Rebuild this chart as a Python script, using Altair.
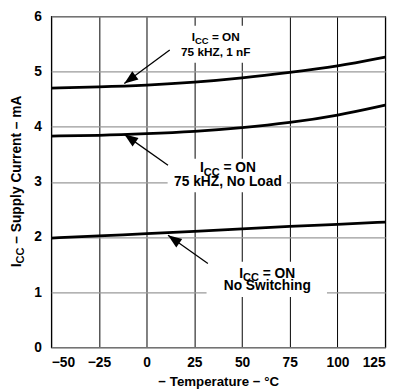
import math
import altair as alt
import pandas as pd

# ---- data ----
temps = [-50, -25, 0, 25, 50, 75, 100, 125]
icc_1nf = [4.70, 4.72, 4.75, 4.80, 4.88, 4.98, 5.09, 5.26]
icc_noload = [3.83, 3.84, 3.87, 3.91, 3.98, 4.07, 4.20, 4.39]
icc_noswitch = [1.98, 2.02, 2.06, 2.10, 2.15, 2.19, 2.23, 2.27]
series_names = ["75 kHZ, 1 nF", "75 kHZ, No Load", "No Switching"]

x_ticks = [-50, -25, 0, 25, 50, 75, 100, 125]
y_ticks = [0, 1, 2, 3, 4, 5, 6]

# annotations (data units)
label_line2 = ["75 kHZ, 1 nF", "75 kHZ, No Load", "No Switching"]
label_x = [36.2, 42.6, 63.2]
label_y1 = [5.55, 3.17, 1.265]
label_y2 = [5.28, 2.92, 1.047]
label_size = [12, 14, 14]

box_x = [11.0, 11.0, 31.4]
box_x2 = [62.9, 73.6, 94.5]
box_y = [5.16, 2.81, 0.91]
box_y2 = [5.83, 3.42, 1.55]

arrow_tail_x = [12.1, 11.2, 32.1]
arrow_tail_y = [5.39, 3.30, 1.52]
arrow_tip_x = [-11.7, -11.7, 11.2]
arrow_tip_y = [4.78, 3.86, 2.03]

W, H = 340, 337
XD = [-50, 125]
YD = [0, 6]
kx = W / (XD[1] - XD[0])
ky = H / (YD[1] - YD[0])
FONT = "Liberation Sans"

xs = alt.Scale(domain=XD, nice=False, zero=False)
ys = alt.Scale(domain=YD, nice=False, zero=False)

# ---- tables ----
rows = []
for name, vals in zip(series_names, [icc_1nf, icc_noload, icc_noswitch]):
    for t, v in zip(temps, vals):
        rows.append({"series": name, "t": t, "icc": v})
curves_df = pd.DataFrame(rows)

boxes_df = pd.DataFrame({"x": box_x, "x2": box_x2, "y": box_y, "y2": box_y2})

arr_rows = []
for tx, ty, hx, hy in zip(arrow_tail_x, arrow_tail_y, arrow_tip_x, arrow_tip_y):
    ux = (hx - tx) * kx
    uy = -(hy - ty) * ky
    ang = math.degrees(math.atan2(ux, -uy)) % 360
    arr_rows.append({"tx": tx, "ty": ty, "hx": hx, "hy": hy, "ang": ang})
arrows_df = pd.DataFrame(arr_rows)

t1 = []
for c, y1, f in zip(label_x, label_y1, label_size):
    t1.append({"x": c - 2.0365 * f / kx, "y": y1, "text": "I", "size": f})
    t1.append({"x": c - 1.7585 * f / kx, "y": y1 - 0.25 * f / ky, "text": "CC", "size": 0.8 * f})
    t1.append({"x": c - 0.3255 * f / kx, "y": y1, "text": "= ON", "size": f})
line1_df = pd.DataFrame(t1)
line2_df = pd.DataFrame({"x": label_x, "y": label_y2, "text": label_line2, "size": label_size})

X_AXIS = alt.Axis(values=x_ticks, title="− Temperature − °C", grid=True,
                  gridColor="black", gridWidth=1, ticks=False, domain=False,
                  labelPadding=9, titlePadding=5)
Y_AXIS = alt.Axis(values=y_ticks, title=None, grid=True, gridColor="#9a9a9a",
                  gridWidth=1.3, ticks=False, domain=False, labelPadding=10)


def X(field):
    return alt.X(field, scale=xs, axis=X_AXIS)


def Y(field):
    return alt.Y(field, scale=ys, axis=Y_AXIS)


boxes = alt.Chart(boxes_df).mark_rect(fill="white", strokeWidth=0).encode(
    x=X("x:Q"), x2="x2:Q", y=Y("y:Q"), y2="y2:Q")

curves = alt.Chart(curves_df).mark_line(color="black", strokeWidth=2.8,
                                        interpolate="basis").encode(
    x=X("t:Q"), y=Y("icc:Q"), detail="series:N")

shafts = alt.Chart(arrows_df).mark_rule(color="black", strokeWidth=1.3).encode(
    x=X("tx:Q"), y=Y("ty:Q"), x2="hx:Q", y2="hy:Q")

heads = alt.Chart(arrows_df).mark_point(
    shape="M0,0L0.75,2L-0.75,2Z", filled=True, fill="black", opacity=1,
    strokeWidth=0, size=196).encode(
    x=X("hx:Q"), y=Y("hy:Q"), angle=alt.Angle("ang:Q", scale=None))

text1 = alt.Chart(line1_df).mark_text(align="left", baseline="alphabetic",
                                      font=FONT, fontWeight="bold", color="black").encode(
    x=X("x:Q"), y=Y("y:Q"), text="text:N", size=alt.Size("size:Q", scale=None))

text2 = alt.Chart(line2_df).mark_text(align="center", baseline="alphabetic",
                                      font=FONT, fontWeight="bold", color="black").encode(
    x=X("x:Q"), y=Y("y:Q"), text="text:N", size=alt.Size("size:Q", scale=None))

# y-axis title with subscript
yt_size = 14
yt_x = -31
yt_y = H / 2 + 87
ytitle_df = pd.DataFrame({"a": [0]})


def yt(text, dx, dy, size):
    return alt.Chart(ytitle_df).mark_text(
        text=text, angle=270, align="left", baseline="alphabetic", font=FONT,
        fontWeight="bold", fontSize=size, color="black", dx=dx, dy=dy).encode(
        x=alt.value(yt_x), y=alt.value(yt_y))


yt1 = yt("I", 0, 0, yt_size)
yt2 = yt("CC", 0.278 * yt_size, 3.5, 0.8 * yt_size)
yt3 = yt("– Supply Current – mA", 0.278 * yt_size * 2 + 1.444 * 0.8 * yt_size, 0, yt_size)

chart = alt.layer(boxes, curves, shafts, heads, text1, text2, yt1, yt2, yt3).properties(
    width=W, height=H,
    padding={"left": 44, "top": 5, "right": 10, "bottom": 40},
    autosize=alt.AutoSizeParams(type="none"),
).configure_view(stroke="black", strokeWidth=1.2).configure_axis(
    labelFont=FONT, titleFont=FONT, labelFontWeight="bold", titleFontWeight="bold",
    labelFontSize=14, titleFontSize=13.5, labelColor="black", titleColor="black")

chart.save("out.html", embed_options={"renderer": "svg", "actions": False})
